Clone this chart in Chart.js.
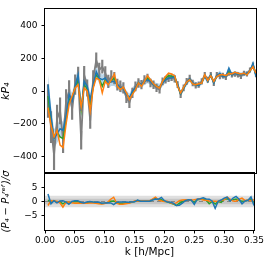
<!DOCTYPE html>
<html><head><meta charset="utf-8">
<script src="https://cdn.jsdelivr.net/npm/chart.js@4"></script>
<style>
html,body{margin:0;padding:0;background:#fff;overflow:hidden;width:266px;height:266px}
#wrap{position:absolute;left:0;top:0;width:266px;height:266px}
canvas{position:absolute;left:0;top:0}
</style></head><body>
<div id="wrap"><canvas id="ctop" width="266" height="266"></canvas><canvas id="cbot" width="266" height="266"></canvas></div>
<script>
// ---- data ----
const kValues = [0.005,0.010,0.015,0.020,0.025,0.030,0.035,0.040,0.045,0.050,
 0.055,0.060,0.065,0.070,0.075,0.080,0.085,0.090,0.095,0.100,
 0.105,0.110,0.115,0.120,0.125,0.130,0.135,0.140,0.145,0.150,
 0.155,0.160,0.165,0.170,0.175,0.180,0.185,0.190,0.195,0.200,
 0.205,0.210,0.215,0.220,0.225,0.230,0.235,0.240,0.245,0.250,
 0.255,0.260,0.265,0.270,0.275,0.280,0.285,0.290,0.295,0.300,
 0.305,0.310,0.315,0.320,0.325,0.330,0.335,0.340,0.345,0.350];
const refP4 = [-60,-220,-390,-170,-120,-300,-60,0,-110,40,
 90,-300,100,20,-180,80,190,130,150,110,
 60,90,80,40,30,20,-40,-70,-10,30,
 50,40,70,80,50,40,20,10,60,70,
 80,85,75,40,-20,20,60,80,50,35,
 40,60,100,70,100,50,100,90,95,85,
 110,100,105,100,90,110,105,130,160,100];
const refErr = [100,95,90,85,80,75,70,65,62,60,
 58,55,52,50,48,46,44,42,40,40,
 38,36,35,34,33,32,30,30,29,28,
 27,26,25,25,24,24,23,22,22,21,
 21,20,20,19,19,19,18,18,18,17,
 17,17,16,16,16,16,15,15,15,15,
 14,14,14,14,14,13,13,13,13,13];
const modelBlue = [40,-150,-290,-260,-230,-240,-150,-20,-60,30,
 100,-120,60,30,-50,40,120,80,70,80,
 50,60,60,40,20,15,-20,-40,0,20,
 50,40,60,70,60,40,30,25,50,70,
 80,80,90,40,-15,20,50,75,50,40,
 35,55,90,60,100,50,95,110,90,90,
 140,100,110,105,100,105,110,120,170,90];
const bandBlue = [60,60,58,56,55,54,52,50,48,46,
 45,44,42,40,38,36,35,34,32,30,
 30,28,28,27,26,25,25,24,24,23,
 23,22,22,21,21,20,20,20,19,19,
 19,18,18,18,17,17,17,17,16,16,
 16,16,15,15,15,15,15,15,14,14,
 14,14,14,14,14,14,14,14,14,14];
const modelOrange = [-100,-210,-280,-240,-330,-345,-200,-80,-30,20,
 40,-100,20,0,-120,20,80,70,-10,60,
 40,70,105,30,10,25,-10,-50,-20,10,
 50,30,60,95,70,45,30,20,60,90,
 110,105,95,30,-10,25,55,70,45,40,
 45,50,100,65,95,60,90,100,100,95,
 110,105,115,110,105,110,100,125,150,110];
const modelGreen = [-30,-180,-285,-250,-280,-290,-175,-50,-45,25,
 70,-110,40,15,-85,30,100,75,30,70,
 45,65,80,35,15,20,-15,-45,-10,15,
 50,35,60,80,65,42,30,22,55,80,
 95,92,90,35,-15,20,52,72,48,40,
 40,52,95,62,97,55,92,105,95,92,
 120,102,112,107,102,107,105,122,160,100];
const resBlue = [2.6,-0.8,0.3,-0.5,0.2,0.3,-0.2,-1.0,0.0,0.3,
 0.3,-0.3,-0.5,-0.2,0.0,-0.2,-0.3,-0.2,-0.6,-0.5,
 -0.4,-0.5,-1.1,-0.3,-0.2,-0.2,-0.2,-0.3,-0.2,-0.1,
 0.5,0.1,0.1,0.1,0.1,0.5,0.9,0.8,1.4,0.3,
 -0.2,-0.3,-0.6,-1.4,-1.3,-0.6,0.3,0.6,0.5,-1.0,
 0.8,1.0,1.3,0.9,0.8,0.1,-2.4,0.1,0.5,1.2,
 1.5,0.2,1.2,1.8,0.8,-0.8,0.2,0.4,1.6,-1.4];
const resOrange = [-1.4,0.3,0.1,0.1,-0.5,-2.0,-0.3,-0.2,-0.4,-0.6,
 -0.5,-0.6,-0.5,-0.6,-0.5,-0.4,-0.6,-0.8,-0.9,-0.7,
 -0.3,0.8,1.5,-0.6,-1.0,-1.0,-0.8,-0.6,-0.3,0.2,
 0.3,0.2,0.2,0.2,0.2,0.8,1.5,0.6,0.2,0.0,
 0.1,-0.5,-0.8,-0.5,0.3,0.5,0.6,0.4,0.5,0.6,
 0.8,0.9,0.5,0.4,0.2,0.1,0.1,0.0,0.4,0.6,
 1.5,0.8,0.2,0.1,0.8,1.2,0.3,0.5,0.3,0.6];
const resGreen = [0.5,-0.3,0.2,-0.2,-0.1,-0.8,-0.2,-0.6,-0.2,-0.1,
 -0.1,-0.4,-0.5,-0.4,-0.2,-0.3,-0.4,-0.5,-0.7,-0.6,
 -0.3,0.1,0.2,-0.4,-0.6,-0.6,-0.5,-0.4,-0.3,0.0,
 0.3,0.1,0.1,0.1,0.1,0.6,1.1,0.6,0.6,0.1,
 -0.1,-0.5,-0.9,-1.4,-0.6,-0.1,0.4,0.5,0.4,-0.3,
 0.6,0.8,0.8,0.5,-0.8,0.0,-0.9,0.0,-0.3,0.8,
 1.0,0.4,0.6,0.9,0.4,0.1,0.2,0.4,0.9,-0.4];
const topTicks = [-400,-200,0,200,400];
const botTicks = [-5,0,5];
const xTicks = [0,0.05,0.10,0.15,0.20,0.25,0.30,0.35];
const xRange = [0,0.35];
const bandLevels = [2,1];

// ---- styling ----
const BLUE='#1f77b4', ORANGE='#ff7f0e', GREEN='#2ca02c', GRAY='#7f7f7f';
Chart.defaults.font.family = "'DejaVu Sans'";
Chart.defaults.font.size = 9;
Chart.defaults.color = '#000';
const pts = arr => kValues.map((k,i)=>({x:k, y:arr[i]}));
const minus = v => String(v).replace('-', '\u2212');
const frame = {id:'frame', afterDatasetsDraw(chart){
  const a=chart.chartArea, c=chart.ctx; c.save(); c.strokeStyle='#000'; c.lineWidth=1;
  c.strokeRect(Math.round(a.left)-0.5, Math.round(a.top)-0.5, Math.round(a.right-a.left)+1, Math.round(a.bottom-a.top)+1); c.restore();}};
const line = (data,color,w,order,extra) => Object.assign({type:'line', data, borderColor:color, backgroundColor:color,
  borderWidth:w, pointRadius:0, tension:0, fill:false, order}, extra||{});
const YW = 45, RP = 10;
const yAxisBase = (ticks,min,max,title,tsize,tpad) => ({
  min, max,
  afterBuildTicks: s => { s.ticks = ticks.map(v=>({value:v})); },
  afterFit: s => { s.width = YW; },
  ticks:{padding:4, callback: v => minus(v)},
  grid:{drawOnChartArea:false, drawTicks:true, tickLength:3.5, color:'#000', lineWidth:1},
  border:{display:false},
  title:{display:true, text:title, font:{size:tsize, style:'italic'}, padding:{top:tpad,bottom:0}}
});

new Chart(document.getElementById('ctop'), {
  type:'line',
  data:{datasets:[
    line(pts(modelOrange), ORANGE, 1.5, 0),
    line(pts(modelBlue), BLUE, 1.5, 1),
    line(pts(modelGreen), GREEN, 1.5, 2),
    {type:'bar', data: kValues.map((k,i)=>({x:k, y:[refP4[i]-refErr[i], refP4[i]+refErr[i]]})),
      backgroundColor:GRAY, barThickness:1.5, grouped:false, order:3},
    line(pts(refP4), GRAY, 1.8, 4),
    line(kValues.map((k,i)=>({x:k,y:modelBlue[i]+bandBlue[i]})), 'rgba(0,0,0,0)', 0, 6),
    line(kValues.map((k,i)=>({x:k,y:modelBlue[i]-bandBlue[i]})), 'rgba(0,0,0,0)', 0, 5,
      {fill:'-1', backgroundColor:'rgba(31,119,180,0.3)'})
  ]},
  options:{
    responsive:false, animation:false, devicePixelRatio:1, events:[],
    layout:{padding:{top:7, bottom:93, left:0, right:RP}},
    plugins:{legend:{display:false}, tooltip:{enabled:false}},
    scales:{
      x:{type:'linear', min:xRange[0], max:xRange[1], display:false, offset:false, grid:{offset:false}},
      y: yAxisBase(topTicks,-500,500,'kP\u2084',11,0)
    }
  },
  plugins:[frame]
});

const hband = v => xRange.map(x=>({x, y:v}));
new Chart(document.getElementById('cbot'), {
  type:'line',
  data:{datasets:[
    line(pts(resBlue), BLUE, 1.5, 0),
    line(pts(resOrange), ORANGE, 1.5, 1),
    line(pts(resGreen), GREEN, 1.5, 2),
    line(hband(0), '#888', 1, 3, {borderDash:[4,3]}),
    line(hband(bandLevels[0]), 'rgba(0,0,0,0)', 0, 8),
    line(hband(-bandLevels[0]), 'rgba(0,0,0,0)', 0, 7, {fill:'-1', backgroundColor:'rgba(128,128,128,0.25)'}),
    line(hband(bandLevels[1]), 'rgba(0,0,0,0)', 0, 6),
    line(hband(-bandLevels[1]), 'rgba(0,0,0,0)', 0, 5, {fill:'-1', backgroundColor:'rgba(128,128,128,0.25)'})
  ]},
  options:{
    responsive:false, animation:false, devicePixelRatio:1, events:[],
    layout:{padding:{top:173, bottom:0, left:0, right:RP}},
    plugins:{legend:{display:false}, tooltip:{enabled:false}},
    scales:{
      x:{type:'linear', min:xRange[0], max:xRange[1], offset:false,
        afterBuildTicks: s => { s.ticks = xTicks.map(v=>({value:v})); },
        afterFit: s => { s.height = 36; },
        ticks:{padding:2, maxRotation:0, autoSkip:false, callback: v => Number(v).toFixed(2)},
        grid:{drawOnChartArea:false, drawTicks:true, tickLength:3.5, color:'#000', lineWidth:1, offset:false},
        border:{display:false},
        title:{display:true, text:'k [h/Mpc]', font:{size:10.5}, padding:{top:0,bottom:7}}
      },
      y: yAxisBase(botTicks,-10,10,'(P\u2084 \u2212 P\u2084\u02b3\u1d49\u1da0)/\u03c3',10,0)
    }
  },
  plugins:[frame]
});
</script>
</body></html>
